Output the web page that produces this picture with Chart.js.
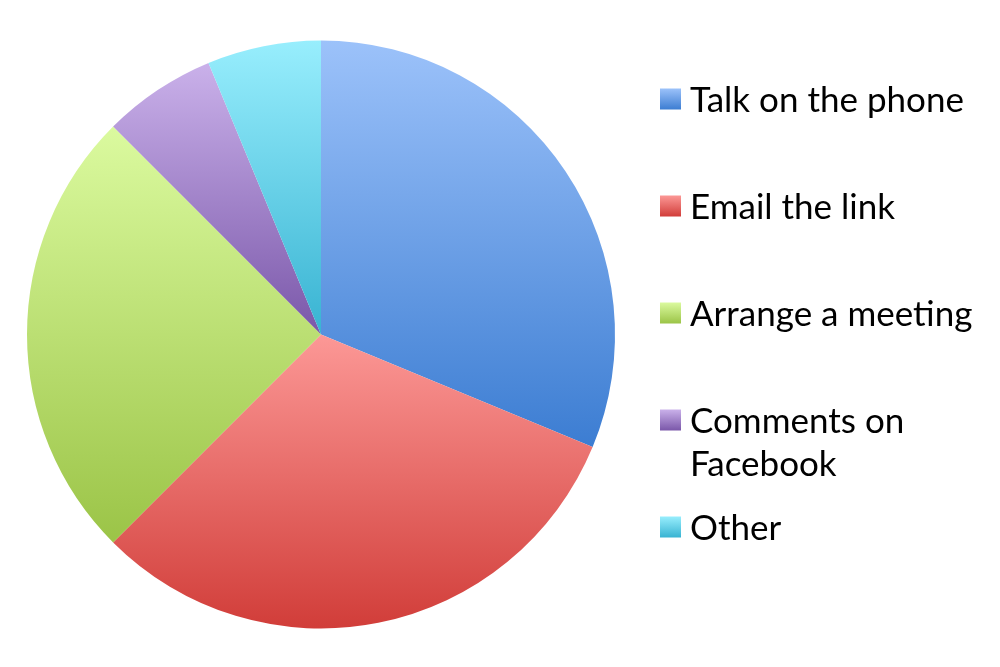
<!DOCTYPE html>
<html>
<head>
<meta charset="utf-8">
<script src="https://cdn.jsdelivr.net/npm/chart.js@4/dist/chart.umd.min.js"></script>
<style>
  html, body { margin: 0; padding: 0; background: #fff; }
  #wrap { width: 1000px; height: 667px; }
</style>
</head>
<body>
<div id="wrap"><canvas id="pieChart"></canvas></div>
<script>
  // Data
  const labels = ['Talk on the phone', 'Email the link', 'Arrange a meeting', ['Comments on', 'Facebook'], 'Other'];
  const values = [10, 10, 8, 2, 2];
  // light (top) / dark (bottom) colour per slice
  const lightColors = ['#9cc2fa', '#fc9896', '#dbfa9f', '#cab1ea', '#98eefd'];
  const darkColors = ['#3c7dd2', '#d13d39', '#9bc447', '#7a57a9', '#38b3d2'];

  const ctx = document.getElementById('pieChart').getContext('2d');

  // vertical extent of a slice, used to lay the gradient over it
  function sliceExtent(chart, i) {
    const area = chart.chartArea;
    const cy = (area.top + area.bottom) / 2;
    const r = Math.min(area.right - area.left, area.bottom - area.top) / 2;
    const total = values.reduce((a, b) => a + b, 0);
    let cum = 0;
    for (let k = 0; k < i; k++) cum += values[k];
    const a0 = -Math.PI / 2 + 2 * Math.PI * cum / total;
    const a1 = a0 + 2 * Math.PI * values[i] / total;
    let ys = [cy, cy + r * Math.sin(a0), cy + r * Math.sin(a1)];
    [-Math.PI / 2, Math.PI / 2, 1.5 * Math.PI].forEach(a => {
      if (a >= a0 && a <= a1) ys.push(cy + r * Math.sin(a));
    });
    return [Math.min(...ys), Math.max(...ys)];
  }

  function sliceColor(context) {
    const chart = context.chart;
    if (!chart.chartArea) return lightColors[context.dataIndex];
    const i = context.dataIndex;
    const [y0, y1] = sliceExtent(chart, i);
    const g = chart.ctx.createLinearGradient(0, y0, 0, y1);
    g.addColorStop(0, lightColors[i]);
    g.addColorStop(1, darkColors[i]);
    return g;
  }

  // legend drawn at the right, Excel style (wrapped label keeps the row spacing)
  const sideLegend = {
    id: 'sideLegend',
    afterDraw(chart) {
      const c = chart.ctx;
      const boxX = 660, boxSize = 21, textX = 690;
      const firstY = 99, rowGap = 107, lineGap = 43;
      c.save();
      c.font = '35px Lato';
      c.fillStyle = '#000';
      c.textBaseline = 'middle';
      labels.forEach((lab, i) => {
        const y = firstY + i * rowGap;
        const g = c.createLinearGradient(0, y - boxSize / 2, 0, y + boxSize / 2);
        g.addColorStop(0, lightColors[i]);
        g.addColorStop(1, darkColors[i]);
        c.fillStyle = g;
        c.fillRect(boxX, y - boxSize / 2, boxSize, boxSize);
        c.fillStyle = '#000';
        const lines = Array.isArray(lab) ? lab : [lab];
        lines.forEach((t, j) => c.fillText(t, textX, y + 2 + j * lineGap));
      });
      c.restore();
    }
  };

  new Chart(ctx, {
    type: 'pie',
    data: {
      labels: labels,
      datasets: [{
        data: values,
        backgroundColor: sliceColor,
        borderWidth: 0,
        hoverOffset: 0
      }]
    },
    options: {
      responsive: true,
      maintainAspectRatio: false,
      animation: false,
      layout: {
        padding: { left: 27, top: 40, bottom: 38, right: 385 }
      },
      plugins: {
        legend: { display: false },
        tooltip: { enabled: true }
      }
    },
    plugins: [sideLegend]
  });
</script>
</body>
</html>
